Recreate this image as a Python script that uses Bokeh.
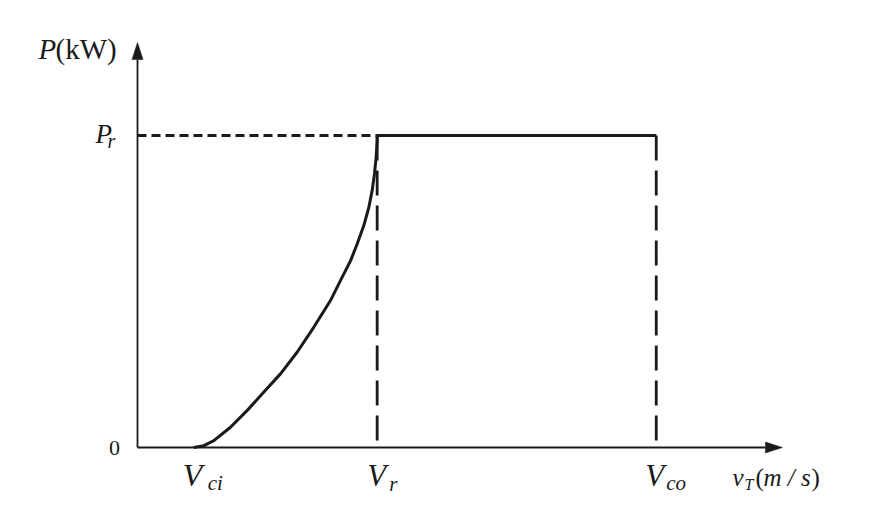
from bokeh.plotting import figure
from bokeh.models import Range1d
from bokeh.core.properties import value
from bokeh.embed import file_html
from bokeh.resources import INLINE

# ---- data ----
v_ci = 2.71          # cut-in wind speed
v_r = 11.55          # rated wind speed
v_co = 25.0          # cut-out wind speed
P_r = 1.0            # rated power (normalised)
v_axis_end = 31.08
P_axis_end = 1.298

curve_v = [2.71, 3.20, 3.68, 4.48, 5.29, 6.09, 6.89, 7.70, 8.50, 9.30, 9.78,
           10.27, 10.59, 10.91, 11.15, 11.31, 11.42, 11.50, 11.55, 11.55]
curve_P = [0.0, 0.006, 0.022, 0.065, 0.119, 0.178, 0.236, 0.306, 0.386, 0.471, 0.535,
           0.599, 0.653, 0.712, 0.770, 0.824, 0.877, 0.930, 0.984, 1.0]

# ---- layout (pixel geometry) ----
W, H = 866, 514
ORIGIN_X, ORIGIN_Y = 137, 447              # origin inside the canvas
PX_V, PX_P = 20.75, 312.0                  # pixels per data unit

x0 = -ORIGIN_X / PX_V
y1 = ORIGIN_Y / PX_P
p = figure(width=W, height=H,
           x_range=Range1d(x0, x0 + W / PX_V),
           y_range=Range1d(y1 - H / PX_P, y1),
           x_axis_type=None, y_axis_type=None,
           min_border=0, toolbar_location=None, output_backend="svg")
p.grid.visible = False
p.outline_line_color = None
p.background_fill_color = "white"
p.border_fill_color = "white"

INK = "#1a1a1a"
SERIF = value("'Liberation Serif', 'Times New Roman', serif")

# axes with arrow heads
head_len, head_half = 17.0, 5.5
p.line([0, v_axis_end - head_len / PX_V], [0, 0], line_color=INK, line_width=1.8)
p.line([0, 0], [0, P_axis_end - head_len / PX_P], line_color=INK, line_width=1.8)
p.patch([v_axis_end, v_axis_end - head_len / PX_V, v_axis_end - head_len / PX_V],
        [0, head_half / PX_P, -head_half / PX_P], color=INK, line_width=0.5)
p.patch([0, head_half / PX_V, -head_half / PX_V],
        [P_axis_end, P_axis_end - head_len / PX_P, P_axis_end - head_len / PX_P],
        color=INK, line_width=0.5)

# dashed guide lines
p.line([0, v_r], [P_r, P_r], line_color=INK, line_width=2.8, line_dash="9 5")
p.line([v_r, v_r], [P_r, 0], line_color=INK, line_width=2.8, line_dash="25 10")
p.line([v_co, v_co], [P_r, 0], line_color=INK, line_width=2.8, line_dash="25 10")

# power curve
p.line(curve_v, curve_P, line_color=INK, line_width=3, line_join="round")
p.line([v_r, v_co], [P_r, P_r], line_color=INK, line_width=3)


def label(x, y, txt, size, dx, dy, style="italic", align="left", baseline="alphabetic"):
    p.text(x=[x], y=[y], text=[txt], text_font=SERIF, text_font_style=style,
           text_font_size=size, text_color=INK, x_offset=dx, y_offset=dy - 10,
           text_align=align, text_baseline=baseline)


# y axis labels
label(0, P_axis_end, "P", "29px", -99, 16)
label(0, P_axis_end, "(kW)", "29px", -82, 16, style="normal")
label(0, P_r, "P", "27px", -42, 8)
label(0, P_r, "r", "20px", -30, 15)
label(0, 0, "0", "22px", -23, 10, style="normal", align="center")

# x axis labels
label(v_ci, 0, "V", "32px", -11, 37)
label(v_ci, 0, "ci", "21px", 14, 45)
label(v_r, 0, "V", "31px", -10, 38)
label(v_r, 0, "r", "21px", 12, 46)
label(v_co, 0, "V", "31px", -11, 38)
label(v_co, 0, "co", "21px", 10, 45)
label(v_axis_end, 0, "v", "25px", -50, 40)
label(v_axis_end, 0, "T", "16px", -38, 47)
label(v_axis_end, 0, "(", "25px", -27, 40, style="normal")
label(v_axis_end, 0, "m / s", "25px", -19, 40)
label(v_axis_end, 0, ")", "25px", 29, 40, style="normal")

open("out.html", "w").write(file_html(p, INLINE))
